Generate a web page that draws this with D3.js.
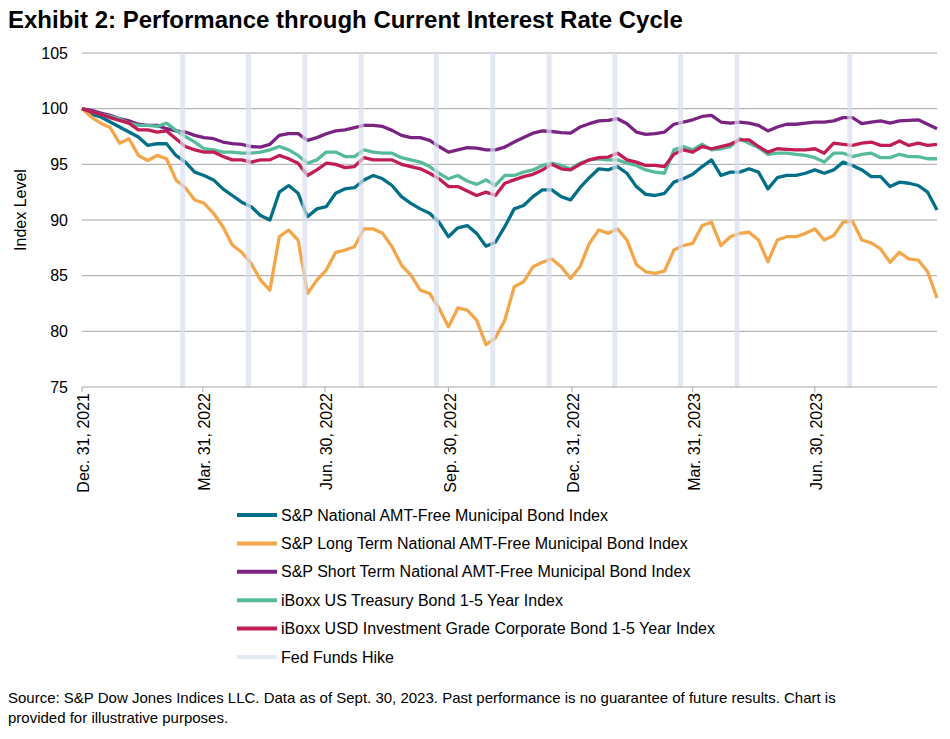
<!DOCTYPE html>
<html lang="en">
<head>
<meta charset="UTF-8">
<title>Exhibit 2</title>
<script src="https://d3js.org/d3.v7.min.js"></script>
<style>
  body { margin: 0; background: #fff; }
  svg text { font-family: "Liberation Sans", Arial, sans-serif; fill: #000; }
</style>
</head>
<body>
<div id="chart"></div>
<script>
// weekly index levels, start Dec. 31, 2021 = 100
const startDate = new Date(2021, 11, 31);
const natMuni = [100,99.5,99.25,98.8,98.35,97.9,97.45,96.7,96.85,96.85,95.8,95.2,94.3,94.0,93.6,92.8,92.2,91.6,91.2,90.4,
  90.0,92.5,93.1,92.4,90.3,91.0,91.2,92.4,92.8,92.9,93.6,94.0,93.7,93.1,92.1,91.5,91.0,90.6,89.8,88.5,
  89.3,89.5,88.8,87.65,88.0,89.4,91.0,91.3,92.1,92.7,92.7,92.1,91.8,92.9,93.8,94.6,94.5,94.8,94.2,93.0,
  92.3,92.2,92.4,93.4,93.7,94.1,94.8,95.4,94.0,94.3,94.3,94.6,94.3,92.8,93.8,94.0,94.0,94.2,94.5,94.2,
  94.5,95.2,94.9,94.5,93.9,93.9,93.0,93.4,93.3,93.1,92.5,90.9];
const longMuni = [100,99.25,98.7,98.3,96.9,97.3,95.8,95.35,95.8,95.5,93.6,92.9,91.8,91.5,90.6,89.4,87.75,87.1,86.1,84.6,
  83.7,88.5,89.1,88.2,83.4,84.6,85.5,87.1,87.3,87.6,89.2,89.2,88.8,87.6,85.95,85.05,83.7,83.4,82.1,80.4,
  82.1,81.9,81.0,78.8,79.4,81.0,84.0,84.45,85.8,86.2,86.5,85.8,84.75,85.8,87.9,89.1,88.8,89.2,88.2,86.0,
  85.35,85.2,85.4,87.3,87.7,87.9,89.5,89.8,87.7,88.5,88.8,88.9,88.2,86.25,88.2,88.5,88.5,88.8,89.2,88.2,
  88.6,89.8,89.9,88.2,87.95,87.4,86.2,87.1,86.5,86.4,85.35,83.0];
const shortMuni = [100,99.85,99.6,99.4,99.1,98.9,98.6,98.5,98.5,98.2,98.0,97.9,97.6,97.4,97.3,97.0,96.86,96.8,96.6,96.55,
  96.8,97.6,97.75,97.75,97.15,97.4,97.75,98.0,98.1,98.3,98.5,98.5,98.4,98.05,97.6,97.4,97.4,97.15,96.6,96.1,
  96.3,96.5,96.45,96.3,96.3,96.55,97.0,97.4,97.8,98.0,97.95,97.85,97.8,98.35,98.65,98.9,98.95,99.1,98.65,97.9,
  97.7,97.75,97.9,98.6,98.8,99.0,99.3,99.4,98.8,98.7,98.8,98.7,98.5,98.0,98.35,98.6,98.6,98.7,98.8,98.8,
  98.9,99.2,99.2,98.65,98.8,98.9,98.7,98.9,98.95,99.0,98.6,98.2];
const treasury = [100,99.7,99.5,99.3,99.1,98.7,98.5,98.5,98.4,98.7,98.05,97.5,97.0,96.4,96.3,96.1,96.1,96.0,96.0,96.1,
  96.3,96.6,96.3,95.8,95.1,95.4,96.1,96.1,95.7,95.7,96.3,96.1,96.0,96.0,95.6,95.4,95.2,94.8,94.2,93.7,
  94.0,93.5,93.2,93.6,93.1,94.0,94.0,94.3,94.5,94.9,95.1,94.9,94.6,95.1,95.4,95.5,95.4,95.4,95.1,94.9,
  94.5,94.3,94.2,96.3,96.6,96.3,96.8,96.3,96.4,96.6,97.3,96.9,96.5,95.9,96.0,96.0,95.9,95.8,95.6,95.2,
  96.0,96.0,95.7,95.9,96.0,95.6,95.6,95.9,95.7,95.7,95.5,95.5];
const corpIG = [100,99.7,99.5,99.2,98.95,98.7,98.1,98.1,97.9,98.0,97.3,96.6,96.3,96.1,96.1,95.7,95.4,95.4,95.2,95.4,
  95.4,95.8,95.5,95.1,94.0,94.5,95.1,95.0,94.7,94.8,95.6,95.4,95.4,95.4,95.0,94.8,94.6,94.2,93.7,93.0,
  93.0,92.6,92.2,92.5,92.2,93.3,93.6,93.9,94.1,94.5,95.0,94.6,94.5,95.0,95.4,95.6,95.65,96.0,95.4,95.2,
  94.9,94.9,94.8,95.9,96.3,96.1,96.6,96.4,96.6,96.8,97.2,97.2,96.6,96.1,96.4,96.35,96.3,96.3,96.4,96.0,
  96.9,96.8,96.7,96.9,97.0,96.7,96.7,97.1,96.7,96.9,96.7,96.8];

const seriesNames = [
  "S&P National AMT-Free Municipal Bond Index",
  "S&P Long Term National AMT-Free Municipal Bond Index",
  "S&P Short Term National AMT-Free Municipal Bond Index",
  "iBoxx US Treasury Bond 1-5 Year Index",
  "iBoxx USD Investment Grade Corporate Bond 1-5 Year Index"
];
const seriesColors = ["#006f87", "#f3a64a", "#7b2382", "#56ba9c", "#c21c54"];
const hikeDates = ["2022-03-16","2022-05-04","2022-06-15","2022-07-27","2022-09-21","2022-11-02",
  "2022-12-14","2023-02-01","2023-03-22","2023-05-03","2023-07-26"];
const tickDates = ["2021-12-31","2022-03-31","2022-06-30","2022-09-30","2022-12-31","2023-03-31","2023-06-30"];
const tickLabels = ["Dec. 31, 2021","Mar. 31, 2022","Jun. 30, 2022","Sep. 30, 2022","Dec. 31, 2022","Mar. 31, 2023","Jun. 30, 2023"];
const yTicks = [75, 80, 85, 90, 95, 100, 105];

const parse = d3.timeParse("%Y-%m-%d");
const dates = natMuni.map((v, i) => d3.timeDay.offset(startDate, i * 7));
const allSeries = [natMuni, longMuni, shortMuni, treasury, corpIG];

const svg = d3.select("#chart").append("svg")
  .attr("width", 950).attr("height", 739);

const plotLeft = 82, plotRight = 937, plotTop = 53, plotBottom = 387;

const x = d3.scaleTime()
  .domain([startDate, dates[dates.length - 1]])
  .range([plotLeft, plotRight]);
const y = d3.scaleLinear().domain([75, 105]).range([plotBottom, plotTop]);

// title
svg.append("text")
  .attr("x", 8).attr("y", 28)
  .attr("font-size", 24).attr("font-weight", "bold")
  .text("Exhibit 2: Performance through Current Interest Rate Cycle");

// gridlines
svg.append("g").selectAll("line")
  .data(yTicks.filter(t => t > 75))
  .join("line")
  .attr("x1", plotLeft).attr("x2", plotRight)
  .attr("y1", d => y(d)).attr("y2", d => y(d))
  .attr("stroke", "#a6a6a6").attr("stroke-width", 1);

// y labels
svg.append("g").selectAll("text")
  .data(yTicks)
  .join("text")
  .attr("x", 68).attr("y", d => y(d)).attr("dy", "0.35em")
  .attr("text-anchor", "end").attr("font-size", 16)
  .text(d => d);

svg.append("text")
  .attr("transform", `translate(26,${(plotTop + plotBottom) / 2 - 10}) rotate(-90)`)
  .attr("text-anchor", "middle").attr("font-size", 16)
  .text("Index Level");

// lines
const line = d3.line()
  .x((d, i) => x(dates[i]))
  .y(d => y(d));

svg.append("g").selectAll("path")
  .data(allSeries)
  .join("path")
  .attr("fill", "none")
  .attr("stroke", (d, i) => seriesColors[i])
  .attr("stroke-width", 3.3)
  .attr("stroke-linejoin", "round")
  .attr("d", line);

// Fed hike bands on top, semi transparent
svg.append("g").selectAll("rect")
  .data(hikeDates)
  .join("rect")
  .attr("x", d => x(parse(d)) - 2.5)
  .attr("y", plotTop)
  .attr("width", 5)
  .attr("height", plotBottom - plotTop)
  .attr("fill", "#d8def0")
  .attr("opacity", 0.7);

// x axis
svg.append("line")
  .attr("x1", plotLeft).attr("x2", plotRight)
  .attr("y1", plotBottom).attr("y2", plotBottom)
  .attr("stroke", "#a6a6a6");
svg.append("g").selectAll("line")
  .data(tickDates)
  .join("line")
  .attr("x1", d => x(parse(d))).attr("x2", d => x(parse(d)))
  .attr("y1", plotBottom).attr("y2", plotBottom + 5)
  .attr("stroke", "#a6a6a6");
svg.append("g").selectAll("text")
  .data(tickDates)
  .join("text")
  .attr("transform", d => `translate(${x(parse(d))},${plotBottom + 6}) rotate(-90)`)
  .attr("text-anchor", "end").attr("dy", "0.45em")
  .attr("font-size", 16)
  .text((d, i) => tickLabels[i]);

// legend
const legendNames = seriesNames.concat(["Fed Funds Hike"]);
const legendColors = seriesColors.concat(["#e4e8f4"]);
const lg = svg.append("g").selectAll("g")
  .data(legendNames)
  .join("g")
  .attr("transform", (d, i) => `translate(237,${515 + i * 28.4})`);
lg.append("line")
  .attr("x1", 0).attr("x2", 40)
  .attr("stroke", (d, i) => legendColors[i])
  .attr("stroke-width", 4);
lg.append("text")
  .attr("x", 44).attr("dy", "0.35em")
  .attr("font-size", 16)
  .text(d => d);

// footnote
svg.append("text")
  .attr("x", 8).attr("y", 703).attr("font-size", 15)
  .text("Source: S&P Dow Jones Indices LLC. Data as of Sept. 30, 2023. Past performance is no guarantee of future results. Chart is");
svg.append("text")
  .attr("x", 8).attr("y", 723).attr("font-size", 15)
  .text("provided for illustrative purposes.");
</script>
</body>
</html>
